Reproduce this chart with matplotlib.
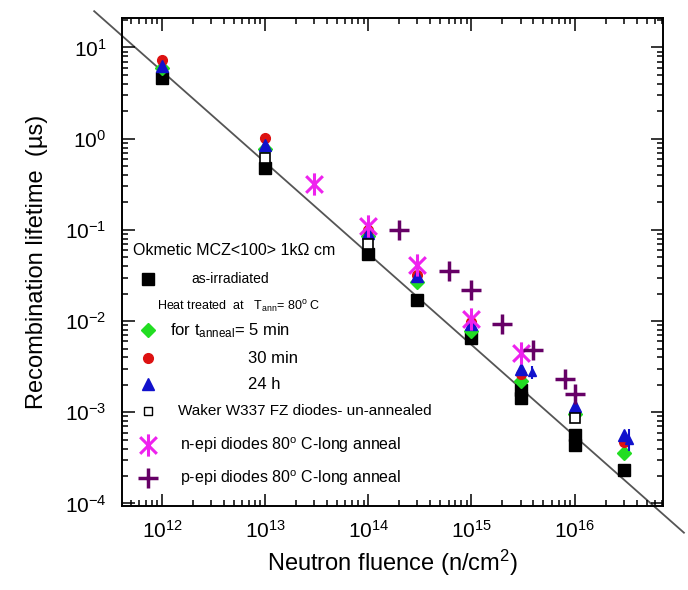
import matplotlib
matplotlib.use('Agg')
import matplotlib.pyplot as plt
import numpy as np
from matplotlib.path import Path

plt.rcParams['font.family'] = ['Liberation Sans', 'DejaVu Sans']
plt.rcParams['mathtext.fontset'] = 'custom'
plt.rcParams['mathtext.rm'] = 'Liberation Sans'
plt.rcParams['mathtext.it'] = 'Liberation Sans:italic'
plt.rcParams['mathtext.bf'] = 'Liberation Sans:bold'

# Data (fluence in n/cm^2, lifetime in us)
irr_x = [1e12, 1e13, 1e14, 3e14, 1e15, 3e15, 3e15, 1e16, 1e16, 3e16]
irr_y = [4.6, 0.48, 0.055, 0.017, 0.0065, 1.75e-3, 1.45e-3, 5.6e-4, 4.4e-4, 2.3e-4]

wak_x = [1e13, 1e14, 1e16]
wak_y = [0.62, 0.07, 8.6e-4]

m5_x = [1e12, 1e13, 1e14, 3e14, 1e15, 3e15, 1e16, 3e16]
m5_y = [6.0, 0.77, 0.085, 0.027, 0.0078, 2.2e-3, 9.5e-4, 3.6e-4]

m30_x = [1e12, 1e13, 1e14, 3e14, 1e15, 3e15, 1e16, 3e16]
m30_y = [7.2, 1.02, 0.1, 0.032, 0.0098, 2.6e-3, 1.0e-3, 4.7e-4]

h24_x = [1e12, 1e13, 1e14, 3e14, 1e15, 3e15, 1e16, 3e16]
h24_y = [6.3, 0.85, 0.093, 0.031, 0.0093, 3.0e-3, 1.17e-3, 5.7e-4]

# extra 24 h points with error bars
h24e_x = [3.9e15, 3.4e16]
h24e_y = [2.8e-3, 5.0e-4]
h24e_err = [[0.5e-3, 1.2e-4], [0.4e-3, 1.5e-4]]

nepi_x = [3e13, 1e14, 3e14, 1e15, 3e15]
nepi_y = [0.32, 0.11, 0.041, 0.0105, 0.0045]

pepi_x = [2e14, 6e14, 1e15, 2e15, 4e15, 8e15, 1e16]
pepi_y = [0.1, 0.035, 0.022, 0.0093, 0.0048, 0.0023, 0.0016]

# fit line tau = K / phi
fit_K = 5.5e12
fit_x = [2.2e11, 1.15e17]

# asterisk marker (vertical + two diagonals)
ast = Path([(0, -1), (0, 1), (-0.75, -0.75), (0.75, 0.75), (-0.75, 0.75), (0.75, -0.75)],
           [Path.MOVETO, Path.LINETO, Path.MOVETO, Path.LINETO, Path.MOVETO, Path.LINETO])

fig = plt.figure(figsize=(6.88, 5.90), dpi=100)
ax = fig.add_axes([0.177, 0.142, 0.787, 0.827])

fx = np.array(fit_x)
ax.plot(fx, fit_K / fx, color='#555555', lw=1.3, clip_on=False, zorder=1)

ax.plot(irr_x, irr_y, 's', color='black', ms=8, zorder=3)
ax.plot(wak_x, wak_y, 's', mfc='white', mec='black', mew=1.2, ms=7, zorder=4)
ax.plot(m5_x, m5_y, 'D', color='#22dd22', ms=7, zorder=3)
ax.plot(m30_x, m30_y, 'o', color='#dd1111', ms=7, zorder=3)
ax.plot(h24_x, h24_y, '^', color='#1111cc', ms=8, zorder=3)
ax.errorbar(h24e_x, h24e_y, yerr=h24e_err, fmt='^', color='#1111cc', ms=6,
            elinewidth=1.5, capsize=0, zorder=3)
ax.plot(nepi_x, nepi_y, marker=ast, ls='none', mec='#ee22ee', mew=2.2, ms=16, zorder=5)
ax.plot(pepi_x, pepi_y, '+', color='#660066', mew=2.5, ms=15, zorder=5)

ax.set_xscale('log')
ax.set_yscale('log')
ax.set_xlim(10**11.61, 10**16.86)
ax.set_ylim(10**-4.03, 10**1.32)

ax.tick_params(which='both', direction='in', top=True, right=True, width=1.1)
ax.tick_params(which='major', length=9, labelsize=15)
ax.tick_params(axis='x', which='major', pad=10)
ax.tick_params(axis='y', which='major', pad=11)
ax.tick_params(which='minor', length=4.5)
for s in ax.spines.values():
    s.set_linewidth(1.4)

ax.set_xlabel('Neutron fluence (n/cm$^2$)', fontsize=17, labelpad=4)
ax.set_ylabel('Recombination lifetime  (\u00b5s)', fontsize=17, labelpad=12)

# hand-built legend (axes fraction coordinates)
def ax_xy(px, py):
    return (px - 122) / 541, (506 - py) / 488

tr = ax.transAxes
x0, y0 = ax_xy(133, 250)
ax.text(x0, y0, 'Okmetic MCZ<100> 1k\u03a9 cm', transform=tr, fontsize=11.5, va='center')

mx = ax_xy(148, 0)[0]
rows = [
    (279, dict(marker='s', color='black', ms=8), 192, 'as-irradiated', 10),
    (330, dict(marker='D', color='#22dd22', ms=7), 170, None, 12),
    (358, dict(marker='o', color='#dd1111', ms=7), 248, '30 min', 12),
    (384, dict(marker='^', color='#1111cc', ms=8), 248, '24 h', 12),
    (411, dict(marker='s', mfc='white', mec='black', mew=1.0, ms=6), 178,
     'Waker W337 FZ diodes- un-annealed', 11),
    (445, dict(marker=ast, mec='#ee22ee', mew=2.2, ms=16), 180,
     'n-epi diodes 80$^{\\mathrm{o}}$ C-long anneal', 11.5),
    (478, dict(marker='+', color='#660066', mew=2.5, ms=15), 180,
     'p-epi diodes 80$^{\\mathrm{o}}$ C-long anneal', 11.5),
]
for py, mk, tx, label, fs in rows:
    yy = ax_xy(0, py)[1]
    ax.plot([mx], [yy], transform=tr, ls='none', clip_on=False, **mk)
    if label:
        ax.text(ax_xy(tx, 0)[0], yy, label, transform=tr, fontsize=fs, va='center')

ax.text(ax_xy(170, 0)[0], ax_xy(0, 330)[1], 'for $\\mathrm{t}_{\\mathrm{anneal}}$= 5 min',
        transform=tr, fontsize=12, va='center')
ax.text(ax_xy(157, 0)[0], ax_xy(0, 307)[1],
        'Heat treated  at   T$_{\\mathrm{ann}}$= 80$^{\\mathrm{o}}$ C',
        transform=tr, fontsize=9, va='center')

fig.savefig('out.png', dpi=100)
